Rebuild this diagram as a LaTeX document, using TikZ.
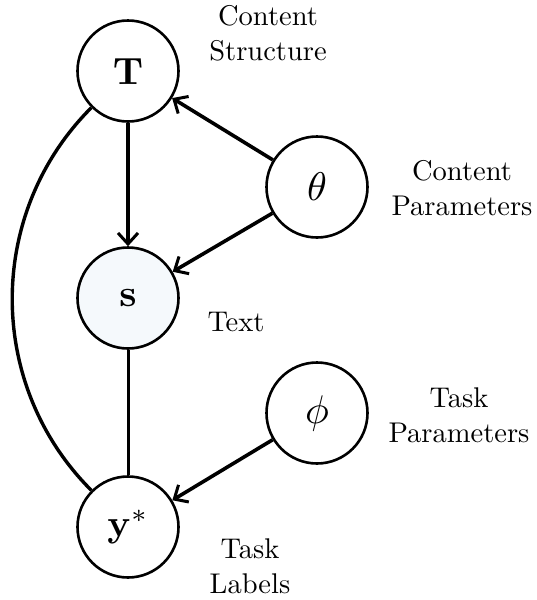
\documentclass[tikz,border=0pt]{standalone}
\usepackage{graphicx}
\usetikzlibrary{arrows.meta}
\definecolor{obsfill}{RGB}{245,249,252}
\begin{document}
\begin{tikzpicture}[x=1pt,y=-1pt,
  var/.style={circle,draw,line width=2.6pt,minimum size=101pt,inner sep=0pt},
  lbl/.style={align=center,scale=2.85},
  arr/.style={line width=3.6pt,-{Straight Barb[length=11pt,width=20pt,line width=3pt]}},
  edge/.style={line width=3pt}]
\useasboundingbox (0,0) rectangle (536,600);
\node[var] (T) at (128,71) {\scalebox{3.8}{$\mathbf{T}$}};
\node[var,fill=obsfill] (s) at (128,298) {\scalebox{3.8}{$\mathbf{s}$}};
\node[var] (y) at (128,527) {\scalebox{3.8}{$\mathbf{y}^*$}};
\node[var] (th) at (317,187) {\scalebox{4}{$\theta$}};
\node[var] (ph) at (317,413) {\scalebox{4}{$\phi$}};
\node[lbl] (lT) at (268,33) {Content\\[0.3pt]Structure};
\node[lbl] (lth) at (462,188) {Content\\[0.3pt]Parameters};
\node[lbl] (ls) at (236,322) {Text};
\node[lbl] (lph) at (459,415) {Task\\[0.3pt]Parameters};
\node[lbl] (ly) at (250,566) {Task\\[0.3pt]Labels};
\draw[arr] (T) -- (s);
\draw[arr] (th) -- (T);
\draw[arr] (th) -- (s);
\draw[arr] (ph) -- (y);
\draw[edge] (s) -- (y);
\draw[line width=3.4pt] (T) to[bend right=45] (y);
\end{tikzpicture}
\end{document}
